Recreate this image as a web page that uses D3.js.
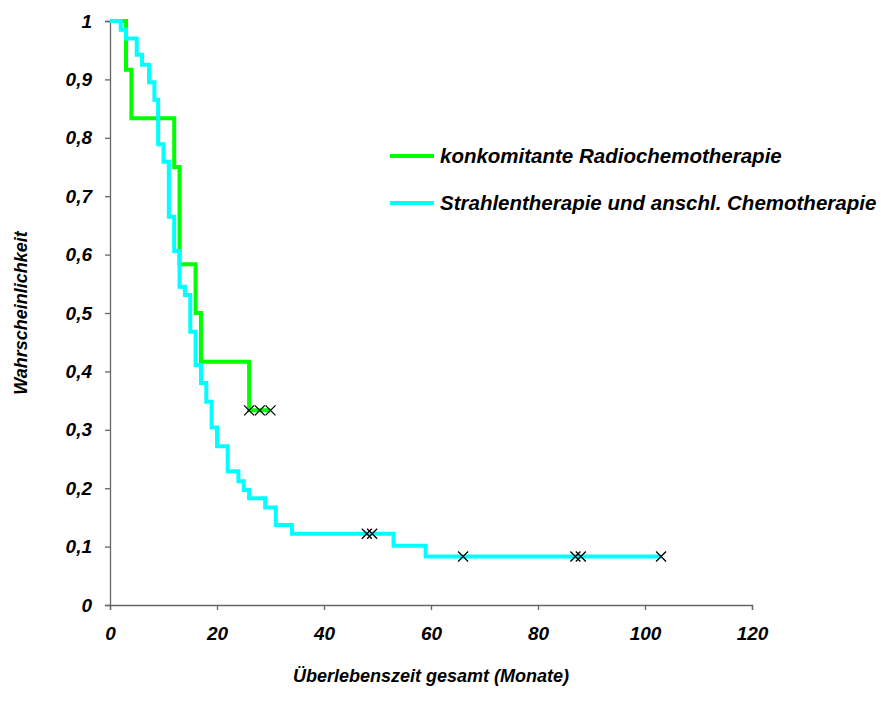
<!DOCTYPE html>
<html>
<head>
<meta charset="utf-8">
<script src="https://cdn.jsdelivr.net/npm/d3@7"></script>
<style>
  html, body { margin: 0; padding: 0; background: #fff; }
  svg text { font-family: "Liberation Sans", Arial, sans-serif; font-weight: bold; font-style: italic; fill: #000; }
</style>
</head>
<body>
<svg id="chart" width="881" height="711"></svg>
<script>
// Kaplan-Meier survival curves for two treatment groups
const seriesNames = ["konkomitante Radiochemotherapie", "Strahlentherapie und anschl. Chemotherapie"];

// konkomitante Radiochemotherapie: event times (months) and survival after each step
const greenTimes = [0, 3, 4, 12, 13, 16, 17, 26, 30];
const greenSurv  = [1, 0.9167, 0.8333, 0.75, 0.5833, 0.5, 0.4167, 0.3333, 0.3333];
const greenCensored = [26, 28, 30];

// Strahlentherapie und anschl. Chemotherapie
const cyanTimes = [0, 2, 3, 5, 6, 7.3, 8.3, 9, 10, 11, 12, 13, 14, 15, 16, 17, 18, 19, 20, 22, 24, 25, 26, 29, 31, 34, 53, 59, 103];
const cyanSurv  = [1, 0.985, 0.970, 0.942, 0.925, 0.895, 0.865, 0.789, 0.759, 0.665, 0.606, 0.545, 0.531, 0.468, 0.411, 0.380, 0.348, 0.304, 0.272, 0.229, 0.212, 0.197, 0.183, 0.167, 0.137, 0.122, 0.1015, 0.083, 0.083];
const cyanCensored = [48, 49, 66, 87, 88, 103];

const xTicks = [0, 20, 40, 60, 80, 100, 120];
const yTicks = [0, 0.1, 0.2, 0.3, 0.4, 0.5, 0.6, 0.7, 0.8, 0.9, 1];

const xTitle = "Überlebenszeit gesamt (Monate)";
const yTitle = "Wahrscheinlichkeit";

const svg = d3.select("#chart");
const plot = { left: 110, right: 752, top: 21, bottom: 605 };

const x = d3.scaleLinear().domain([0, 120]).range([plot.left, plot.right]);
const y = d3.scaleLinear().domain([0, 1]).range([plot.bottom, plot.top]);

const fmt = v => d3.format(".1~f")(v).replace(".", ",");
const axisColor = "#666";
const tickFont = 19;
const titleFont = 18;
const legendFont = 20.5;

// Y axis
const yAxis = svg.append("g")
  .attr("transform", `translate(${plot.left},0)`)
  .call(d3.axisLeft(y).tickValues(yTicks).tickSize(5).tickPadding(13).tickFormat(fmt));
yAxis.select(".domain").attr("stroke", axisColor).attr("stroke-width", 1.3);
yAxis.selectAll(".tick line").attr("stroke", axisColor).attr("stroke-width", 1.3);
yAxis.selectAll(".tick text").attr("font-size", tickFont).style("font-family", null);

// X axis
const xAxis = svg.append("g")
  .attr("transform", `translate(0,${plot.bottom})`)
  .call(d3.axisBottom(x).tickValues(xTicks).tickSize(5).tickPadding(17).tickFormat(d3.format("d")));
xAxis.select(".domain").attr("stroke", axisColor).attr("stroke-width", 1.3);
xAxis.selectAll(".tick line").attr("stroke", axisColor).attr("stroke-width", 1.3);
xAxis.selectAll(".tick text").attr("font-size", tickFont).style("font-family", null);

// Axis titles
svg.append("text")
  .attr("x", (plot.left + plot.right) / 2)
  .attr("y", 682)
  .attr("text-anchor", "middle")
  .attr("font-size", titleFont)
  .text(xTitle);

svg.append("text")
  .attr("transform", `translate(27,${(plot.top + plot.bottom) / 2}) rotate(-90)`)
  .attr("text-anchor", "middle")
  .attr("font-size", titleFont)
  .text(yTitle);

// Step curves
const line = d3.line()
  .x(d => x(d[0]))
  .y(d => y(d[1]))
  .curve(d3.curveStepAfter);

const series = [
  { times: greenTimes, surv: greenSurv, censored: greenCensored, color: "#00ff00" },
  { times: cyanTimes, surv: cyanSurv, censored: cyanCensored, color: "#00ffff" }
];

series.forEach(s => {
  svg.append("path")
    .datum(d3.zip(s.times, s.surv))
    .attr("fill", "none")
    .attr("stroke", s.color)
    .attr("stroke-width", 4)
    .attr("stroke-linejoin", "miter")
    .attr("d", line);
});

// Censoring marks
const survAt = (s, t) => s.surv[d3.bisectRight(s.times, t) - 1];
series.forEach(s => {
  svg.append("g").selectAll("path")
    .data(s.censored)
    .join("path")
    .attr("transform", t => `translate(${x(t)},${y(survAt(s, t))})`)
    .attr("d", "M-5,-5L5,5M-5,5L5,-5")
    .attr("stroke", "#000")
    .attr("stroke-width", 1.3)
    .attr("fill", "none");
});

// Legend
const legend = svg.append("g");
seriesNames.forEach((name, i) => {
  const ly = 156 + i * 47;
  legend.append("line")
    .attr("x1", 390).attr("x2", 434)
    .attr("y1", ly).attr("y2", ly)
    .attr("stroke", series[i].color)
    .attr("stroke-width", 4);
  legend.append("text")
    .attr("x", 440)
    .attr("y", ly + 7)
    .attr("font-size", legendFont)
    .text(name);
});
</script>
</body>
</html>
